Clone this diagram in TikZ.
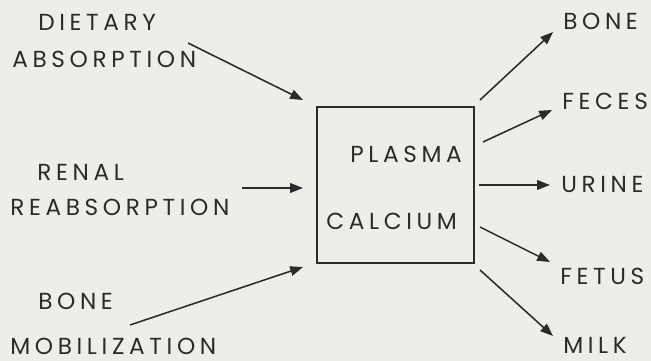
\documentclass[tikz,border=0pt]{standalone}
\usepackage{fontspec}
\setmainfont{Poppins}[LetterSpace=20]
\usepackage{tikz}
\usetikzlibrary{arrows.meta}
\definecolor{paperGrey}{HTML}{EDEDE9}
\definecolor{inkGrey}{HTML}{2B2B2B}
\tikzset{
  labeltext/.style={anchor=base west, inner sep=0pt, text=inkGrey, font=\fontsize{16.5pt}{19pt}\selectfont},
  calbox/.style={rectangle, draw=inkGrey, line width=1.1pt, minimum width=3.925cm, minimum height=3.9cm, inner sep=0pt},
  flowarrow/.style={-{Triangle[length=3.2mm,width=2.4mm]}, line width=1.1pt, draw=inkGrey},
}
\begin{document}
\begin{tikzpicture}[x=0.025cm,y=-0.025cm]
  \fill[paperGrey] (0,0) rectangle (651,361);
  \useasboundingbox (0,0) rectangle (651,361);

  % --- box ---
  \node[calbox] (plasmabox) at (395.5,185) {};
  \node[labeltext] (plasma) at (350,162.5) {PLASMA};
  \node[labeltext] (calcium) at (326,229.5) {CALCIUM};

  % --- sources ---
  \node[labeltext] (dietary) at (38,30.5) {DIETARY};
  \node[labeltext] (absorption) at (12,67.5) {ABSORPTION};
  \node[labeltext] (renal) at (37,180.5) {RENAL};
  \node[labeltext] (reabsorption) at (10,215.5) {REABSORPTION};
  \node[labeltext] (bonesrc) at (38,309.5) {BONE};
  \node[labeltext] (mobilization) at (10,354.5) {MOBILIZATION};

  % --- sinks ---
  \node[labeltext] (bone) at (563,29.5) {BONE};
  \node[labeltext] (feces) at (562,109.5) {FECES};
  \node[labeltext] (urine) at (561,192.5) {URINE};
  \node[labeltext] (fetus) at (560,284.5) {FETUS};
  \node[labeltext] (milk) at (563,353.5) {MILK};

  % --- arrow ends ---
  \coordinate (dietS) at (188,43);   \coordinate (dietE) at (303,100);
  \coordinate (renS) at (242,188);   \coordinate (renE) at (303,188);
  \coordinate (mobS) at (130,325);   \coordinate (mobE) at (303,267);
  \coordinate (boneS) at (480,100);  \coordinate (boneE) at (553,32);
  \coordinate (fecS) at (483,142);   \coordinate (fecE) at (552,110);
  \coordinate (urS) at (479,185);    \coordinate (urE) at (550,185);
  \coordinate (fetS) at (480,227);   \coordinate (fetE) at (550,262);
  \coordinate (milkS) at (480,270);  \coordinate (milkE) at (553,336);

  \foreach \a/\b in {dietS/dietE, renS/renE, mobS/mobE, boneS/boneE, fecS/fecE, urS/urE, fetS/fetE, milkS/milkE} { \draw[flowarrow] (\a) -- (\b); }
\end{tikzpicture}
\end{document}
